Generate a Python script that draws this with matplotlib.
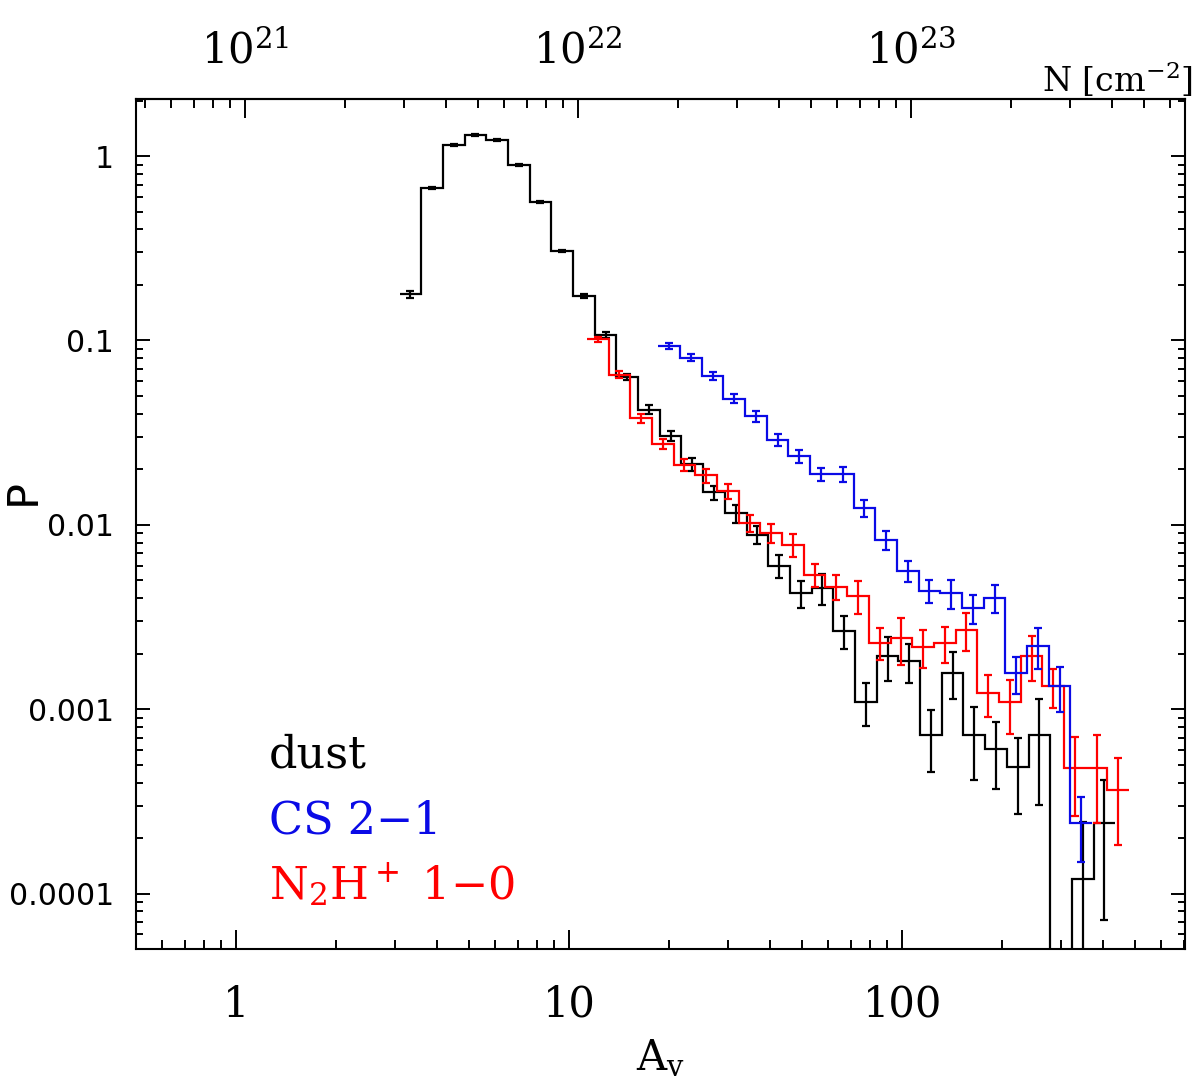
import numpy as np
import matplotlib
matplotlib.use('Agg')
import matplotlib.pyplot as plt
from matplotlib.ticker import LogLocator, FixedLocator, FuncFormatter, NullFormatter

plt.rcParams['font.family'] = ['DejaVu Serif']
plt.rcParams['mathtext.fontset'] = 'dejavuserif'

# ---------------- data ----------------
DLOG = 0.06514          # log10 bin width of the histograms
N_PER_AV = 0.94e21      # N(H2) = 0.94e21 * Av  (top axis)

dust_av0 = 3.093
dust_p = [0.178, 0.67, 1.148, 1.30, 1.22, 0.897, 0.565, 0.305, 0.174, 0.107,
          0.0635, 0.0422, 0.0305, 0.0214, 0.0150, 0.01156, 0.00883, 0.00599, 0.00425, 0.00453,
          0.00267, 0.001097, 0.00195, 0.001824, 0.000722, 0.00158, 0.000722, 0.000611, 0.000486,
          0.000722, 0.0, 0.000120, 0.000242]
dust_err = [0.0085, 0.010, 0.015, 0.016, 0.015, 0.012, 0.008, 0.005, 0.004, 0.0035,
            0.0022, 0.0022, 0.0019, 0.0017, 0.0013, 0.0013, 0.0010, 0.00085, 0.00073, 0.00088,
            0.00055, 0.00029, 0.00052, 0.00043, 0.000265, 0.00045, 0.00031, 0.00024, 0.000215,
            0.00042, 0.0, 0.000124, 0.00017]

n2h_av0 = 11.30
n2h_p = [0.1012, 0.0653, 0.0378, 0.0275, 0.0212, 0.01853, 0.0152, 0.0102, 0.00901, 0.00778,
         0.00535, 0.00462, 0.00413, 0.00229, 0.00242, 0.00218, 0.00229, 0.00269, 0.001217,
         0.001087, 0.00195, 0.00134, 0.000482, 0.000482, 0.000363]
n2h_err = [0.003, 0.0027, 0.0022, 0.0018, 0.00165, 0.0016, 0.0014, 0.00105, 0.00105, 0.0011,
           0.00077, 0.00073, 0.00083, 0.00045, 0.00069, 0.0005, 0.0005, 0.00062, 0.00031,
           0.00035, 0.00053, 0.00032, 0.00022, 0.00024, 0.00018]

cs_av0 = 18.52
cs_p = [0.0931, 0.0805, 0.0645, 0.0484, 0.0388, 0.0290, 0.0235, 0.01885, 0.01885, 0.01233,
        0.00828, 0.00562, 0.00439, 0.00425, 0.00352, 0.00402, 0.00157, 0.0022, 0.00133, 0.000241]
cs_err = [0.0035, 0.0034, 0.0032, 0.0026, 0.0025, 0.0021, 0.0019, 0.00155, 0.0018, 0.00127,
          0.001, 0.00075, 0.00063, 0.00077, 0.00064, 0.00069, 0.00036, 0.00055, 0.00036, 0.000093]

x_ticks = [1, 10, 100]
n_ticks = [1e21, 1e22, 1e23]
y_ticks = [1e-4, 1e-3, 1e-2, 1e-1, 1]
y_ticklabels = ['0.0001', '0.001', '0.01', '0.1', '1']

BLACK = 'black'
BLUE = '#0a0ae6'
RED = '#ff0000'

# ---------------- figure ----------------
W, H = 1200, 1083
fig = plt.figure(figsize=(W / 100, H / 100), dpi=100)
ax = fig.add_axes([136 / W, 1 - 949 / H, (1185 - 136) / W, (949 - 99) / H])
ax.set_xscale('log')
ax.set_yscale('log', nonpositive='clip')
XLIM = (0.5, 707)
ax.set_xlim(*XLIM)
ax.set_ylim(5.0e-5, 2.04)

LW = 1.6
TINY = 1e-9


def draw(av0, p, err, color, z):
    p = np.asarray(p, float)
    err = np.asarray(err, float)
    n = len(p)
    edges = av0 * 10 ** (DLOG * np.arange(n + 1))
    centers = np.sqrt(edges[:-1] * edges[1:])
    vals = np.where(p > 0, p, TINY)
    ax.stairs(vals, edges, baseline=None, color=color, lw=LW, zorder=z)
    m = p > 0
    lower = np.minimum(err[m], p[m] - TINY)
    ax.errorbar(centers[m], p[m], yerr=[lower, err[m]], fmt='none', ecolor=color,
                elinewidth=LW, capsize=2.6, capthick=LW, zorder=z)


draw(dust_av0, dust_p, dust_err, BLACK, 3)
draw(n2h_av0, n2h_p, n2h_err, RED, 4)
draw(cs_av0, cs_p, cs_err, BLUE, 5)

# ---------------- axes styling ----------------
for s in ax.spines.values():
    s.set_linewidth(1.5)

ax.xaxis.set_major_locator(FixedLocator(x_ticks))
ax.xaxis.set_minor_locator(LogLocator(base=10, subs=np.arange(2, 10), numticks=100))
ax.xaxis.set_major_formatter(FuncFormatter(lambda v, pos: '%g' % v))
ax.xaxis.set_minor_formatter(NullFormatter())

ax.yaxis.set_major_locator(FixedLocator(y_ticks))
ax.yaxis.set_minor_locator(LogLocator(base=10, subs=np.arange(2, 10), numticks=100))
ax.set_yticklabels(y_ticklabels)
ax.yaxis.set_minor_formatter(NullFormatter())

ax.tick_params(axis='x', which='major', direction='in', length=13.7, width=1.4,
               bottom=True, top=False, pad=25, labelsize=30)
ax.tick_params(axis='x', which='minor', direction='in', length=6.8, width=1.4,
               bottom=True, top=False)
ax.tick_params(axis='y', which='major', direction='in', length=10, width=1.4,
               left=True, right=True, pad=16, labelsize=21.5)
ax.tick_params(axis='y', which='minor', direction='in', length=4.8, width=1.4,
               left=True, right=True)
for lab in ax.get_yticklabels():
    lab.set_fontfamily('DejaVu Sans')

# minor ticks of the top (column density) axis, inside the visible range
n_lo, n_hi = XLIM[0] * N_PER_AV, XLIM[1] * N_PER_AV
n_minor = [m * 10.0 ** e for e in range(20, 24) for m in range(2, 10)
           if n_lo <= m * 10.0 ** e <= n_hi]

sec = ax.secondary_xaxis('top', functions=(lambda a: a * N_PER_AV, lambda n: n / N_PER_AV))
sec.xaxis.set_major_locator(FixedLocator(n_ticks))
sec.xaxis.set_minor_locator(FixedLocator(n_minor))
sec.xaxis.set_major_formatter(FuncFormatter(lambda v, pos: r'$10^{%d}$' % round(np.log10(v))))
sec.xaxis.set_minor_formatter(NullFormatter())
sec.tick_params(which='major', direction='in', length=13.7, width=1.4, pad=19, labelsize=30)
sec.tick_params(which='minor', direction='in', length=6.8, width=1.4)
sec.spines['top'].set_linewidth(1.5)

# ---------------- labels ----------------
fig.text(1193 / W, 1 - 92 / H, r'N [cm$^{-2}$]', fontsize=24, ha='right', va='baseline')
fig.text(660 / W, 1 - 1070 / H, r'A$_{\rm v}$', fontsize=30, ha='center', va='baseline')
fig.text(23 / W, 1 - 492 / H, 'P', rotation=90, family='DejaVu Sans', fontsize=31,
         ha='center', va='center')

fig.text(269 / W, 1 - 768 / H, 'dust', fontsize=32, color=BLACK, ha='left', va='baseline')
fig.text(269 / W, 1 - 833 / H, 'CS 2\u22121', fontsize=32, color=BLUE, ha='left', va='baseline')
fig.text(269 / W, 1 - 900 / H, r'N$_2$H$^+$ 1' + '\u2212' + '0', fontsize=32, color=RED,
         ha='left', va='baseline')

fig.savefig('out.png', dpi=100)
